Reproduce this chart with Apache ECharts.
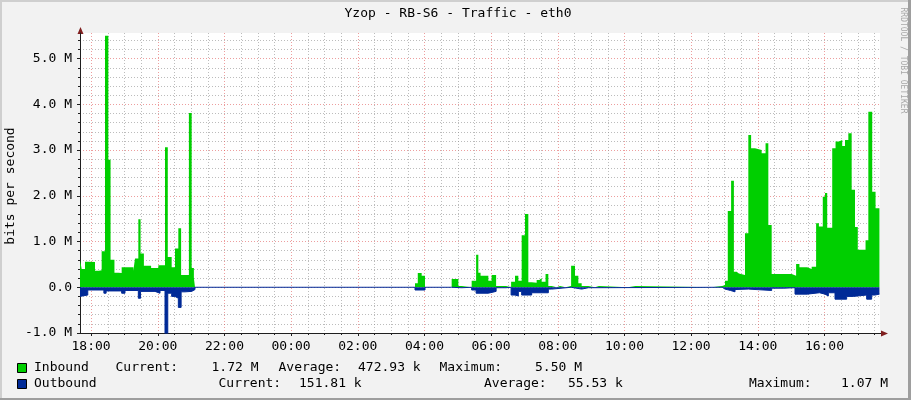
<!DOCTYPE html>
<html><head><meta charset="utf-8">
<script src="https://cdn.jsdelivr.net/npm/echarts@6/dist/echarts.min.js"></script>
<style>html,body{margin:0;padding:0;background:#f2f2f2}#c{width:911px;height:400px}</style>
</head><body><div id="c"></div>
<script>
// ---------- data ----------
const chartTitle = 'Yzop - RB-S6 - Traffic - eth0';
const yAxisName = 'bits per second';
const watermark = 'RRDTOOL / TOBI OETIKER';
// x in minutes relative to 18:00 (day 1)
const xTickMinutes = [0,120,240,360,480,600,720,840,960,1080,1200,1320];
const xTickLabels = ['18:00','20:00','22:00','00:00','02:00','04:00','06:00','08:00','10:00','12:00','14:00','16:00'];
const yTickValues = [-1,0,1,2,3,4,5];
const yTickLabels = ['-1.0 M','0.0','1.0 M','2.0 M','3.0 M','4.0 M','5.0 M'];
// Inbound (Mbit/s), step segments starting at given minute
const inTimes = [-20,-17,-11,-5,7,14,19,25,31,35,42,49,55,76,79,85,89,95,108,121,133,138,145,151,157,162,176,181,185,187,
 583,588,595,601,649,661,667,685,693,697,701,715,721,729,747,756,763,769,775,781,787,793,802,807,811,818,823,829,838,844,
 854,864,871,877,883,895,907,914,966,980,1117,1136,1141,1146,1152,1157,1162,1166,1177,1183,1188,1195,1207,1214,1219,1225,
 1261,1269,1275,1289,1297,1305,1310,1317,1321,1325,1334,1340,1346,1352,1357,1363,1369,1375,1380,1394,1399,1406,1412,1419];
const inValues = [0.60,0.40,0.56,0.55,0.36,0.37,0.79,5.50,2.79,0.60,0.32,0.31,0.44,0.36,0.63,1.49,0.74,0.47,0.42,0.48,3.06,0.66,0.44,0.85,1.29,0.27,3.81,0.42,0.20,0,
 0.09,0.31,0.25,0,0.18,0.03,0,0.14,0.71,0.32,0.25,0.14,0.27,0.03,0,0.12,0.25,0.14,1.14,1.60,0.11,0.10,0.16,0.20,0.12,0.29,0.03,0,0.03,0,
 0.03,0.47,0.25,0.09,0.03,0,0.03,0,0.03,0,0.03,0.05,0.14,1.67,2.33,0.34,0.30,0.27,1.18,3.33,3.04,3.00,2.93,3.15,1.36,0.29,
 0.25,0.51,0.44,0.40,0.45,1.40,1.33,1.98,2.06,1.30,3.04,3.19,3.22,3.09,3.22,3.37,2.13,1.32,0.82,1.03,3.84,2.09,1.73,1.72];
// Outbound (Mbit/s, drawn below zero)
const outTimes = [-20,-17,-6,23,27,55,61,85,89,115,124,133,138,145,151,157,162,169,181,187,
 583,601,649,667,685,693,715,729,747,756,763,769,775,793,823,829,864,883,895,
 1136,1141,1151,1159,1162,1183,1225,1247,1267,1289,1311,1321,1327,1339,1360,1372,1396,1405,1411,1419];
const outValues = [0.20,0.17,0.06,0.13,0.08,0.13,0.07,0.24,0.09,0.13,0.07,1.07,0.13,0.20,0.24,0.44,0.10,0.09,0.05,0,
 0.06,0,0.01,0,0.06,0.13,0.09,0.01,0,0.17,0.19,0.09,0.17,0.12,0.04,0,0.04,0.01,0,
 0.04,0.07,0.10,0.05,0.04,0.07,0.02,0.01,0.15,0.12,0.15,0.19,0.12,0.26,0.20,0.17,0.26,0.17,0.15,0.15];
const legendNames = ['Inbound','Outbound'];
const legendColors = ['#00cf00','#002a97'];
const legendCurrent = ['1.72 M','151.81 k'];
const legendAverage = ['472.93 k','55.53 k'];
const legendMaximum = ['5.50 M','1.07 M'];

// ---------- chart ----------
const FONT = '"DejaVu Sans Mono", monospace';
const X_MIN = -20, X_MAX = 1420, Y_MIN = -1, Y_MAX = 5.56;
const xMinor = []; for (let m = 30; m < X_MAX; m += 30) if (m % 120 !== 0) xMinor.push(m);
const yMinor = []; for (let k = -4; k <= 27; k++) if (k % 5 !== 0) yMinor.push(+(k * 0.2).toFixed(1));
const MGRID = 'rgba(222,79,79,0.55)', GRID = 'rgba(143,143,143,0.6)', AXIS = '#1f1f1f', ARROW = '#801f1f';

function legendText(x, y, t) {
  return {type:'text', x:x, y:y, style:{text:t, font:'13px ' + FONT, fill:'#000', align:'left', verticalAlign:'middle'}};
}
const rowY = [368, 384];
const layout = [
  {cur:[115.5,211.5], avg:[278.5,358], max:[439.5,535]},
  {cur:[218.5,299], avg:[484,568], max:[749,841]}
];
const graphics = [
  {type:'rect', shape:{x:0,y:0,width:911,height:2}, style:{fill:'#cfcfcf'}},
  {type:'rect', shape:{x:0,y:0,width:2,height:400}, style:{fill:'#cfcfcf'}},
  {type:'rect', shape:{x:0,y:398,width:911,height:2}, style:{fill:'#9e9e9e'}},
  {type:'rect', shape:{x:908,y:0,width:3,height:400}, style:{fill:'#9e9e9e'}},
  {type:'text', x:458, y:14, style:{text:chartTitle, font:'13px ' + FONT, fill:'#000', align:'center', verticalAlign:'middle'}},
  {type:'text', x:903.5, y:60.5, rotation:-Math.PI/2, style:{text:watermark, font:'8px ' + FONT, fill:'#a8a8a8', align:'center', verticalAlign:'middle'}},
  {type:'text', x:10.5, y:186, rotation:Math.PI/2, style:{text:yAxisName, font:'13px ' + FONT, fill:'#000', align:'center', verticalAlign:'middle'}},
  // axis extensions + arrows
  {type:'line', shape:{x1:80.5,y1:33,x2:80.5,y2:30}, style:{stroke:AXIS,lineWidth:1}},
  {type:'polygon', shape:{points:[[77.5,34],[83.5,34],[80.5,27]]}, style:{fill:ARROW}},
  {type:'line', shape:{x1:880,y1:333.5,x2:884,y2:333.5}, style:{stroke:AXIS,lineWidth:1}},
  {type:'polygon', shape:{points:[[881,330.5],[881,336.5],[888,333.5]]}, style:{fill:ARROW}}
];
legendNames.forEach((n, i) => {
  const y = rowY[i];
  graphics.push({type:'rect', shape:{x:17.5,y:y-4.5,width:9,height:9}, style:{fill:legendColors[i], stroke:'#000', lineWidth:1}});
  graphics.push(legendText(34, y, n));
  graphics.push(legendText(layout[i].cur[0], y, 'Current:'));
  graphics.push(legendText(layout[i].cur[1], y, legendCurrent[i]));
  graphics.push(legendText(layout[i].avg[0], y, 'Average:'));
  graphics.push(legendText(layout[i].avg[1], y, legendAverage[i]));
  graphics.push(legendText(layout[i].max[0], y, 'Maximum:'));
  graphics.push(legendText(layout[i].max[1], y, legendMaximum[i]));
});

const chart = echarts.init(document.getElementById('c'), null, {renderer:'canvas'});
chart.setOption({
  animation: false,
  backgroundColor: '#f2f2f2',
  textStyle: {fontFamily: FONT},
  grid: {left:80, top:33, width:800, height:300, show:true, backgroundColor:'#ffffff', borderWidth:0},
  xAxis: [
    {type:'value', min:X_MIN, max:X_MAX, position:'bottom',
     axisLine:{show:true, onZero:false, lineStyle:{color:AXIS, width:1}},
     axisTick:{show:true, customValues:xTickMinutes, length:3, lineStyle:{color:AXIS}},
     axisLabel:{show:true, customValues:xTickMinutes, margin:7, color:'#000', fontSize:13, fontFamily:FONT,
       formatter: v => xTickLabels[xTickMinutes.indexOf(Math.round(v))]},
     splitLine:{show:true, lineStyle:{color:MGRID, width:1, type:[1,2]}}},
    {type:'value', min:X_MIN, max:X_MAX, position:'bottom',
     axisLine:{show:false, onZero:false},
     axisTick:{show:true, customValues:xMinor, length:2, lineStyle:{color:AXIS}},
     axisLabel:{show:false},
     splitLine:{show:true, lineStyle:{color:GRID, width:1, type:[1,2]}}}
  ],
  yAxis: [
    {type:'value', min:Y_MIN, max:Y_MAX, position:'left',
     axisLine:{show:true, onZero:false, lineStyle:{color:AXIS, width:1}},
     axisTick:{show:true, customValues:yTickValues, length:3, lineStyle:{color:AXIS}},
     axisLabel:{show:true, customValues:yTickValues, margin:8, color:'#000', fontSize:13, fontFamily:FONT,
       formatter: v => yTickLabels[yTickValues.indexOf(Math.round(v))]},
     splitLine:{show:true, lineStyle:{color:MGRID, width:1, type:[1,2]}}},
    {type:'value', min:Y_MIN, max:Y_MAX, position:'left',
     axisLine:{show:false, onZero:false},
     axisTick:{show:true, customValues:yMinor, length:2, lineStyle:{color:AXIS}},
     axisLabel:{show:false},
     splitLine:{show:true, lineStyle:{color:GRID, width:1, type:[1,2]}}}
  ],
  series: [
    {name:legendNames[0], type:'line', xAxisIndex:0, yAxisIndex:0, step:'end', symbol:'none', showSymbol:false,
     data: inTimes.map((t, i) => [t, inValues[i]]),
     lineStyle:{width:0}, itemStyle:{color:legendColors[0]}, areaStyle:{color:legendColors[0], opacity:1}, z:3},
    {name:legendNames[1], type:'line', xAxisIndex:0, yAxisIndex:0, step:'end', symbol:'none', showSymbol:false,
     data: outTimes.map((t, i) => [t, -outValues[i]]),
     lineStyle:{width:1, color:legendColors[1]}, itemStyle:{color:legendColors[1]}, areaStyle:{color:legendColors[1], opacity:1}, z:4}
  ],
  graphic: graphics
});
</script></body></html>
